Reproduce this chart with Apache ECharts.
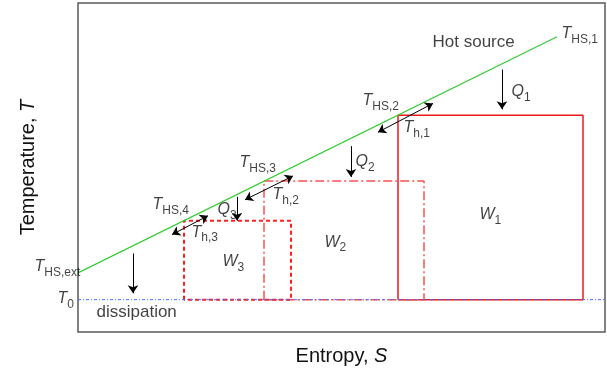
<!DOCTYPE html>
<html>
<head>
<meta charset="utf-8">
<script src="https://cdn.jsdelivr.net/npm/echarts@6/dist/echarts.min.js"></script>
<style>html,body{margin:0;padding:0;background:#fff;}#c{width:607px;height:371px;}</style>
</head>
<body>
<div id="c"></div>
<script>
// ---- data (schematic units: entropy S, temperature T) ----
const sRange = [0, 527];
const tRange = [0, 331];
const T0 = 32.5;
const hotSourceS = [0, 479];
const hotSourceT = [59.5, 297];
const cycleS = [[320, 505], [186, 346], [106, 213]];
const cycleT = [218, 152, 112];
const heatArrowS = [424, 273, 159, 55];
const heatArrowT = [[264, 224], [187, 156], [136, 112], [79, 39]];
const exchangeArrows = [
  [[300, 201], [355, 230]],
  [[167, 133], [215, 157]],
  [[94, 98], [130, 117]]
];
const labelMain = ['T', 'T', 'T', 'T', 'T', 'T', 'T', 'Q', 'Q', 'Q', 'W', 'W', 'W', 'T', 'T'];
const labelSub = ['HS,1', 'HS,2', 'h,1', 'HS,3', 'h,2', 'HS,4', 'h,3', '1', '2', '3', '1', '2', '3', 'HS,ext', '0'];
const labelS = [484, 285, 326, 162, 195, 75, 114, 434, 278, 140, 402, 247, 145, -43, -20];
const labelT = [308, 240, 213, 178, 146, 136, 108, 249, 179, 131, 126, 98, 78, 73, 41];
const plainText = ['Hot source', 'dissipation'];
const plainS = [355, 19];
const plainT = [301, 29];

const FONT = '"Liberation Sans", Arial, sans-serif';
const chart = echarts.init(document.getElementById('c'), null, {renderer: 'canvas'});

function rectPath(i) {
  const [a, b] = cycleS[i], top = cycleT[i];
  return [[a, T0], [a, top], [b, top], [b, T0], [a, T0]];
}
const rectStyles = [
  {color: '#ee1818', width: 1.5, type: 'solid'},
  {color: '#ff5050', width: 1.5, type: [9, 3, 2, 3]},
  {color: '#ff2020', width: 2, type: [4, 3]}
];

const series = [];
// T0 reference line
series.push({
  type: 'line', data: [[sRange[0], T0], [sRange[1], T0]], symbol: 'none', silent: true,
  lineStyle: {color: '#4d6bff', width: 1, type: [3, 2, 1, 2]}, z: 3
});
// hot source line
series.push({
  type: 'line', data: [[hotSourceS[0], hotSourceT[0]], [hotSourceS[1], hotSourceT[1]]],
  symbol: 'none', silent: true, lineStyle: {color: '#33cc33', width: 1.2}, z: 4
});
// cycle rectangles
for (let i = 0; i < cycleS.length; i++) {
  series.push({
    type: 'line', data: rectPath(i), symbol: 'none', silent: true,
    lineStyle: rectStyles[i], z: 2
  });
}
// heat arrows
series.push({
  type: 'lines', coordinateSystem: 'cartesian2d', silent: true, z: 5,
  symbol: ['none', 'arrow'], symbolSize: 8,
  lineStyle: {color: '#000', width: 1, opacity: 1, curveness: 0},
  data: heatArrowS.map((s, i) => ({coords: [[s, heatArrowT[i][0]], [s, heatArrowT[i][1]]]}))
});
// exchange double arrows
series.push({
  type: 'lines', coordinateSystem: 'cartesian2d', silent: true, z: 5,
  symbol: ['arrow', 'arrow'], symbolSize: 8,
  lineStyle: {color: '#000', width: 1, opacity: 1, curveness: 0},
  data: exchangeArrows.map(c => ({coords: c}))
});
// symbol labels
series.push({
  type: 'scatter', clip: false, silent: true, symbolSize: 1, z: 6,
  itemStyle: {color: 'transparent'},
  data: labelS.map((s, i) => ({value: [s, labelT[i]], name: i})),
  label: {
    show: true, position: [0, 0], align: 'left', verticalAlign: 'top',
    formatter: p => '{t|' + labelMain[p.dataIndex] + '}{s|' + labelSub[p.dataIndex] + '}',
    rich: {
      t: {fontFamily: FONT, fontSize: 16, fontStyle: 'italic', color: '#111', lineHeight: 16, verticalAlign: 'top'},
      s: {fontFamily: FONT, fontSize: 12, color: '#111', lineHeight: 28}
    }
  }
});
// plain text labels
series.push({
  type: 'scatter', clip: false, silent: true, symbolSize: 1, z: 6,
  itemStyle: {color: 'transparent'},
  data: plainS.map((s, i) => ({value: [s, plainT[i]]})),
  label: {
    show: true, position: [0, 0], align: 'left', verticalAlign: 'top',
    formatter: p => plainText[p.dataIndex],
    fontFamily: FONT, fontSize: 17, lineHeight: 20, color: '#111'
  }
});

chart.setOption({
  animation: false,
  backgroundColor: '#fff',
  grid: {left: 78, right: 2, top: 3, bottom: 37, show: true, borderColor: '#5a5a5a', borderWidth: 1.5},
  xAxis: {
    type: 'value', min: sRange[0], max: sRange[1],
    axisLine: {show: false}, axisTick: {show: false}, axisLabel: {show: false}, splitLine: {show: false},
    name: '{n|Entropy, }{i|S}', nameLocation: 'middle', nameGap: 14,
    nameTextStyle: {
      rich: {
        n: {fontFamily: FONT, fontSize: 20, color: '#111'},
        i: {fontFamily: FONT, fontSize: 20, fontStyle: 'italic', color: '#111'}
      }
    }
  },
  yAxis: {
    type: 'value', min: tRange[0], max: tRange[1],
    axisLine: {show: false}, axisTick: {show: false}, axisLabel: {show: false}, splitLine: {show: false},
    name: '{n|Temperature, }{i|T}', nameLocation: 'middle', nameGap: 40, nameRotate: 90,
    nameTextStyle: {
      rich: {
        n: {fontFamily: FONT, fontSize: 20, color: '#111'},
        i: {fontFamily: FONT, fontSize: 20, fontStyle: 'italic', color: '#111'}
      }
    }
  },
  series: series
});
</script>
</body>
</html>
